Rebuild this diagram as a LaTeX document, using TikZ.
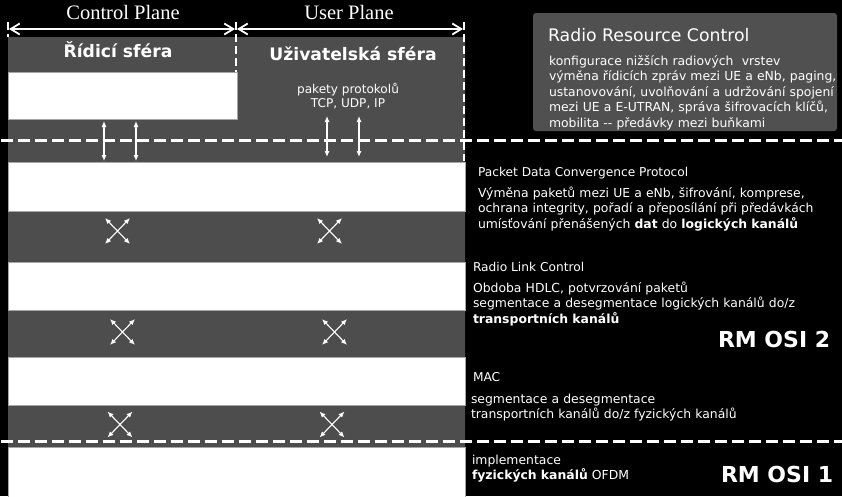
\documentclass[tikz,border=0pt]{standalone}
\usepackage{fontspec}
\setmainfont{DejaVu Sans}
\newfontfamily\planefont{Liberation Serif}
\usetikzlibrary{arrows.meta}
\definecolor{band}{HTML}{4D4D4D}
\definecolor{rrcgrey}{HTML}{505050}
\begin{document}
\begin{tikzpicture}[x=1pt,y=-1pt,
  whitebox/.style={fill=white,draw=black!35,line width=0.8pt,inner sep=0pt,outer sep=0pt,anchor=north west},
  txt/.style={text=white,inner sep=0pt,outer sep=0pt,anchor=base west,align=left},
  ctxt/.style={text=white,inner sep=0pt,outer sep=0pt,anchor=base},
  hdash/.style={draw=white,line width=3pt,dash pattern=on 12pt off 5pt},
  vdash/.style={draw=white,line width=1.2pt,dash pattern=on 8pt off 4pt},
  dbl/.style={draw=white,line width=1.1pt,{Latex[length=6pt,width=5pt]}-{Latex[length=6pt,width=5pt]}},
  span/.style={draw=white,line width=1.8pt,{Straight Barb[length=9pt,width=11pt]}-{Straight Barb[length=9pt,width=11pt]}},
  body/.style={font=\fontsize{12.4}{15.5}\selectfont},
  head/.style={font=\fontsize{12.2}{15}\selectfont},
  osi/.style={font=\fontsize{22}{24}\selectfont\bfseries}
]
\fill[black] (0,0) rectangle (842,496);
\useasboundingbox (0,0) rectangle (842,496);

% grey area
\fill[band] (8,37) -- (462,37) arc[start angle=90,end angle=0,radius=3pt] -- (465,447) -- (8,447) -- cycle;

% white boxes
\node[whitebox,minimum width=229pt,minimum height=47pt] (rrcbox) at (8,72) {};
\node[whitebox,minimum width=457pt,minimum height=49pt] (pdcpbox) at (8,162) {};
\node[whitebox,minimum width=457pt,minimum height=48pt] (rlcbox) at (8,262) {};
\node[whitebox,minimum width=457pt,minimum height=48pt] (macbox) at (8,357) {};
\node[whitebox,minimum width=457pt,minimum height=52pt] (phybox) at (8,447) {};

% vertical dashed guides
\coordinate (v1t) at (8,22);   \coordinate (v1b) at (8,37);
\coordinate (v2t) at (236,22); \coordinate (v2b) at (236,72);
\coordinate (v3t) at (464,22); \coordinate (v3b) at (464,161);
\draw[vdash] (v1t) -- (v1b);
\draw[vdash] (v2t) -- (v2b);
\draw[vdash] (v3t) -- (v3b);

% plane spans
\coordinate (cpl) at (9,29);   \coordinate (cpr) at (235,29);
\coordinate (upl) at (237,29); \coordinate (upr) at (463,29);
\draw[span] (cpl) -- (cpr);
\draw[span] (upl) -- (upr);
\node[ctxt,font=\planefont\fontsize{20.5}{22}\selectfont] (cp) at (123,19) {Control Plane};
\node[ctxt,font=\planefont\fontsize{20.5}{22}\selectfont] (up) at (349,19) {User Plane};

% sphere titles
\node[ctxt,font=\fontsize{17.2}{20}\selectfont\bfseries] (ridici) at (118,57) {Řídicí sféra};
\node[ctxt,font=\fontsize{17.2}{20}\selectfont\bfseries] (uziv) at (353,60) {Uživatelská sféra};
\node[ctxt,font=\fontsize{12.1}{14}\selectfont] (pak1) at (348,93) {pakety protokolů};
\node[ctxt,font=\fontsize{12.1}{14}\selectfont] (pak2) at (348,107) {TCP, UDP, IP};

% vertical arrows RRC <-> PDCP
\coordinate (a1t) at (104,121); \coordinate (a1b) at (104,161);
\coordinate (a2t) at (136,121); \coordinate (a2b) at (136,161);
\coordinate (a3t) at (327,116); \coordinate (a3b) at (327,157);
\coordinate (a4t) at (359,116); \coordinate (a4b) at (359,157);
\draw[dbl] (a1t) -- (a1b);
\draw[dbl] (a2t) -- (a2b);
\draw[dbl] (a3t) -- (a3b);
\draw[dbl] (a4t) -- (a4b);

% crossing arrows
\foreach \n/\cx/\cy in {a/117.5/231, b/329.5/231, c/122.5/332, d/334.5/332, e/120/424.5, f/332/424.5}{
  \coordinate (x\n1) at (\cx-12.5,\cy-13);
  \coordinate (x\n2) at (\cx+12.5,\cy-13);
  \coordinate (x\n3) at (\cx+12.5,\cy+13);
  \coordinate (x\n4) at (\cx-12.5,\cy+13);
  \draw[dbl] (x\n1) -- (x\n3);
  \draw[dbl] (x\n2) -- (x\n4);
}

% dashed OSI boundaries
\coordinate (h1l) at (1,140); \coordinate (h1r) at (842,140);
\coordinate (h2l) at (1,441); \coordinate (h2r) at (842,441);
\draw[hdash] (h1l) -- (h1r);
\draw[hdash] (h2l) -- (h2r);

% RRC description box
\fill[rrcgrey,rounded corners=3pt] (533,13) rectangle (837,131);
\node[txt,font=\fontsize{17.3}{20}\selectfont] (rrct) at (548,41) {Radio Resource Control};
\node[txt,body,text width=290pt] (rrcd) at (549,65) {konfigurace nižších radiových\ \ vrstev\\výměna řídicích zpráv mezi UE a eNb, paging,\\ustanovování, uvolňování a udržování spojení\\mezi UE a E-UTRAN, správa šifrovacích klíčů,\\mobilita -{}- předávky mezi buňkami};

% PDCP
\node[txt,head] (pdcpt) at (478,176) {Packet Data Convergence Protocol};
\node[txt,body,text width=360pt] (pdcpd) at (478,197) {Výměna paketů mezi UE a eNb, šifrování, komprese,\\ochrana integrity, pořadí a přeposílání při předávkách\\umísťování přenášených \textbf{dat} do \textbf{logických kanálů}};

% RLC
\node[txt,head] (rlct) at (473,271) {Radio Link Control};
\node[txt,body,text width=360pt] (rlcd) at (473,292) {Obdoba HDLC, potvrzování paketů\\segmentace a desegmentace logických kanálů do/z\\\textbf{transportních kanálů}};

\node[txt,osi] (osi2) at (718,347) {RM OSI 2};

% MAC
\node[txt,head] (mact) at (473,381) {MAC};
\node[txt,body,text width=360pt] (macd) at (471,403) {segmentace a desegmentace\\transportních kanálů do/z fyzických kanálů};

% PHY
\node[txt,body,text width=240pt] (phyd) at (472,464) {implementace\\\textbf{fyzických kanálů} OFDM};
\node[txt,osi] (osi1) at (721,482) {RM OSI 1};
\end{tikzpicture}
\end{document}
